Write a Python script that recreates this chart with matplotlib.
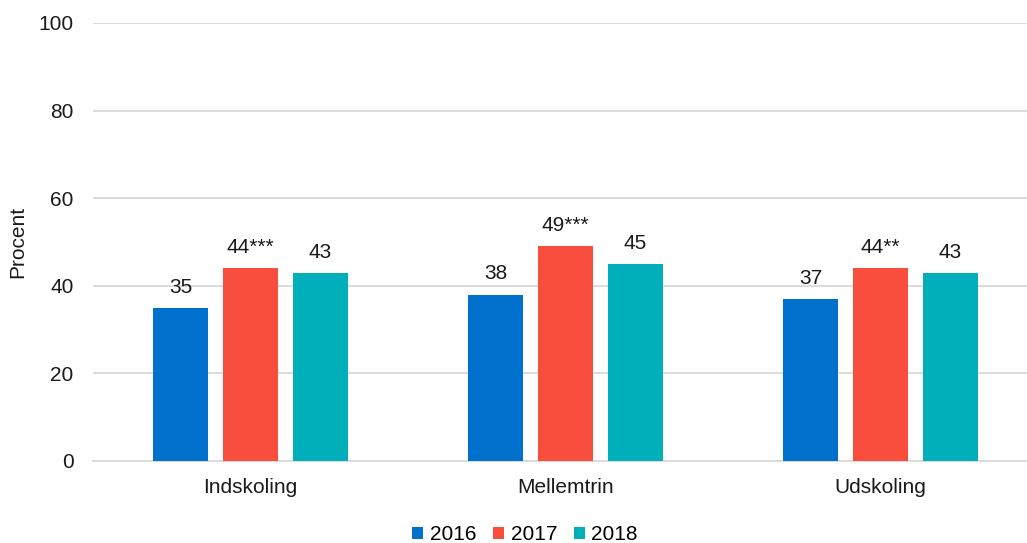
import matplotlib
matplotlib.use("Agg")
import matplotlib.pyplot as plt
import numpy as np

categories = ["Indskoling", "Mellemtrin", "Udskoling"]
years = ["2016", "2017", "2018"]
values_2016 = [35, 38, 37]
values_2017 = [44, 49, 44]
values_2018 = [43, 45, 43]
labels_2016 = ["35", "38", "37"]
labels_2017 = ["44***", "49***", "44**"]
labels_2018 = ["43", "45", "43"]
yticks = [0, 20, 40, 60, 80, 100]

colors = ["#0070CD", "#F94D3D", "#00AFB9"]

plt.rcParams["font.family"] = ["Liberation Sans", "DejaVu Sans"]
FS = 15

W, H = 1027, 543
fig = plt.figure(figsize=(W / 100, H / 100), dpi=100)
ax = fig.add_axes([93 / W, 1 - 461 / H, 945 / W, 438 / H])

x = np.arange(len(categories))
step = 0.222
width = 0.175
series = [(values_2016, labels_2016), (values_2017, labels_2017), (values_2018, labels_2018)]
for i, ((vals, labs), year, c) in enumerate(zip(series, years, colors)):
    pos = x + (i - 1) * step
    bars = ax.bar(pos, vals, width, color=c, label=year, zorder=3)
    for b, v, t in zip(bars, vals, labs):
        ax.annotate(t, (b.get_x() + b.get_width() / 2, v), xytext=(0, 8),
                    textcoords="offset points", ha="center", va="bottom",
                    fontsize=FS, color="#1a1a1a")

ax.set_xlim(-0.5, 2.5)
ax.set_ylim(0, 100)
ax.set_yticks(yticks)
ax.set_xticks(x)
ax.set_xticklabels(categories)
ax.tick_params(axis="both", length=0, labelsize=FS, colors="#1a1a1a")
ax.tick_params(axis="y", pad=14)
ax.tick_params(axis="x", pad=12)
ax.grid(axis="y", color="#D9D9D9", linewidth=1.3, zorder=0)
for s in ["left", "right", "top"]:
    ax.spines[s].set_visible(False)
ax.spines["bottom"].set_color("#D9D9D9")
ax.spines["bottom"].set_linewidth(1.3)
ax.set_ylabel("Procent", fontsize=FS, color="#1a1a1a")
ax.yaxis.set_label_coords((27 - 93) / 945, 0.5)

fig.legend(loc="center", bbox_to_anchor=(525 / W, 1 - 535 / H), ncol=3,
           frameon=False, fontsize=FS, handlelength=0.55, handleheight=0.55,
           handletextpad=0.3, columnspacing=0.8)

fig.savefig("out.png", dpi=100)
